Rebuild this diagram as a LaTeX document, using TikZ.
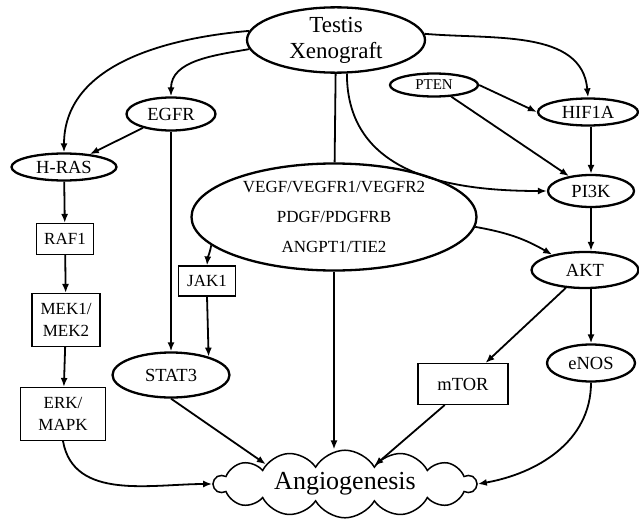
\documentclass[tikz,border=0pt]{standalone}
\usepackage{fontspec}
\setmainfont{Liberation Serif}
\usetikzlibrary{arrows.meta,shapes.geometric,shapes.symbols}
\tikzset{
  oval/.style={ellipse,draw,line width=2.3pt,inner sep=0pt,align=center,font=\fontsize{18.5}{22}\selectfont},
  box/.style={rectangle,draw,line width=1.1pt,inner sep=2pt,align=center,font=\fontsize{17}{22}\selectfont},
  arr/.style={-{Latex[length=9pt,width=7pt]},line width=1.8pt},
}

\begin{document}
\begin{tikzpicture}[x=1pt,y=-1pt]
  \useasboundingbox (0,0) rectangle (639,519);
  % nodes
  \node[oval,minimum width=178pt,minimum height=64pt,font=\fontsize{23}{26}\selectfont] (tx) at (336,40) {Testis\\Xenograft};
  \node[oval,minimum width=89pt,minimum height=33pt] (egfr) at (171,114) {EGFR};
  \node[oval,minimum width=105pt,minimum height=27pt] (hras) at (64,167) {H-RAS};
  \node[box,minimum width=57pt,minimum height=31pt] (raf) at (65,239) {RAF1};
  \node[box,minimum width=68pt,minimum height=53pt] (mek) at (66,320) {MEK1/\\MEK2};
  \node[box,minimum width=85pt,minimum height=53pt] (erk) at (63,414) {ERK/\\MAPK};
  \node[box,minimum width=57pt,minimum height=30pt] (jak) at (207,281) {JAK1};
  \node[oval,minimum width=117pt,minimum height=45pt] (stat) at (171,375) {STAT3};
  \node[oval,minimum width=285pt,minimum height=107pt,font=\fontsize{17}{30}\selectfont] (vegf) at (334,217)
    {VEGF/VEGFR1/VEGFR2\\PDGF/PDGFRB\\ANGPT1/TIE2};
  \node[oval,minimum width=88pt,minimum height=23pt,font=\fontsize{15}{18}\selectfont] (pten) at (434,85) {PTEN};
  \node[oval,minimum width=100pt,minimum height=27pt] (hif) at (588,112) {HIF1A};
  \node[oval,minimum width=86pt,minimum height=32pt] (pik) at (591,191) {PI3K};
  \node[oval,minimum width=107pt,minimum height=36pt] (akt) at (585,270) {AKT};
  \node[oval,minimum width=88pt,minimum height=37pt] (enos) at (591,363) {eNOS};
  \node[box,minimum width=90pt,minimum height=41pt,font=\fontsize{18.5}{22}\selectfont] (mtor) at (463,384) {mTOR};
  \node[cloud,draw,line width=1.5pt,cloud puffs=14,cloud puff arc=120,cloud ignores aspect,
    minimum width=262pt,minimum height=62pt,font=\fontsize{26}{30}\selectfont] (ang) at (345,484) {Angiogenesis};
  % connectors
  \draw[arr] (tx.174) to[out=185,in=90] (hras.north);
  \draw[arr] (tx.186) to[out=190,in=90] (egfr.north);
  \draw[arr] (tx.4) to[out=-5,in=95] (hif.north);
  \draw[arr] (tx.-72) to[out=-90,in=180,looseness=1.1] (pik.west);
  \draw[line width=1.8pt] (tx) -- (vegf);
  \foreach \a/\b in {egfr/hras,egfr/stat,pten/pik,akt/mtor,hras/raf,raf/mek,mek/erk}{\draw[arr] (\a)--(\b);}
  \draw[arr] (pten.east) -- (hif.west);
  \draw[arr] (hif.south -| pik.north) -- (pik.north);
  \draw[arr] (pik.south) -- (pik.south |- akt.north);
  \draw[arr] (enos.north |- akt.south) -- (enos.north);
  \draw[arr] (vegf.-4) to[out=-10,in=150] (akt.155);
  \draw[arr] (vegf.193) to[out=-100,in=85] (jak.north);
  \draw[arr] (vegf.south) -- (vegf.south |- ang.north);
  \draw[arr] (jak.south) -- (stat.26);
  \draw[arr] (stat.south) -- (ang.166);
  \draw[arr] (mtor.-131) -- (ang.32);
  \draw[arr] (erk.south) to[out=-80,in=180] (ang.west);
  \draw[arr] (enos.south) to[out=-90,in=10] (ang.east);
\end{tikzpicture}
\end{document}
